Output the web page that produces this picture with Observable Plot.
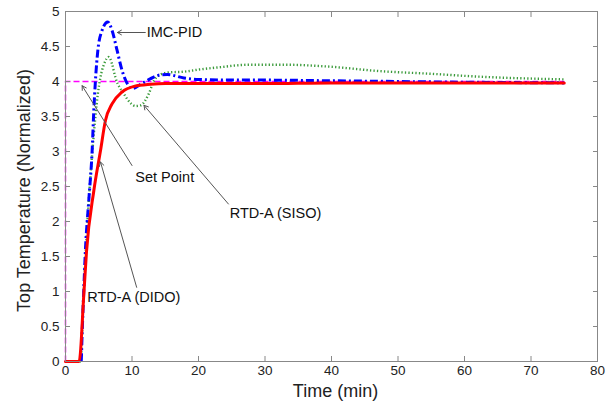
<!DOCTYPE html>
<html><head><meta charset="utf-8">
<script src="https://cdn.jsdelivr.net/npm/d3@7"></script>
<script src="https://cdn.jsdelivr.net/npm/@observablehq/plot@0.6"></script>
<style>body{margin:0;background:#fff;} svg{font-family:"Liberation Sans",Arial,sans-serif;}</style>
</head><body><div id="chart"></div>
<script>
const spT = [0, 0, 75];
const spV = [0, 4, 4];
const imcT = [0, 2.35, 2.5, 2.7, 3.0, 3.5, 4.0, 4.26, 4.5, 4.86, 5.5, 6.36, 7.0, 7.77, 8.5, 9.5, 10.0, 11.3, 12.8, 14.0, 15.3, 17.8, 20, 25, 30, 40, 50, 60, 75];
const imcV = [0, 0, 0.4, 0.9, 1.6, 2.3, 3.0, 3.59, 4.01, 4.44, 4.73, 4.85, 4.73, 4.44, 4.16, 3.94, 3.9, 3.96, 4.04, 4.09, 4.1, 4.05, 4.03, 4.02, 4.02, 4.01, 4.0, 3.99, 3.98];
const sisoT = [0, 2.3, 2.6, 3.0, 3.5, 4.0, 4.5, 4.86, 5.26, 5.8, 6.5, 7.0, 7.5, 8.8, 9.7, 10.5, 11.3, 12.5, 13.3, 14.3, 15.5, 17.8, 20, 22.8, 27.8, 32.8, 40, 47, 55, 62, 75];
const sisoV = [0, 0, 0.7, 1.5, 2.3, 2.95, 3.5, 3.82, 4.06, 4.25, 4.35, 4.25, 4.06, 3.82, 3.7, 3.65, 3.66, 3.82, 4.01, 4.1, 4.13, 4.14, 4.17, 4.2, 4.24, 4.24, 4.21, 4.15, 4.11, 4.07, 4.03];
const didoT = [0, 2.05, 2.75, 3.16, 4.26, 5.26, 6.0, 7.0, 8.5, 10.3, 12.8, 15, 20, 30, 40, 50, 60, 75];
const didoV = [0, 0, 0.95, 1.57, 2.44, 3.01, 3.44, 3.68, 3.85, 3.93, 3.96, 3.97, 3.97, 3.97, 3.98, 3.98, 3.98, 3.98];
const xTicks = [0, 10, 20, 30, 40, 50, 60, 70, 80];
const yTicks = [0, 0.5, 1, 1.5, 2, 2.5, 3, 3.5, 4, 4.5, 5];
const yTickLabels = ["0", "0.5", "1", "1.5", "2", "2.5", "3", "3.5", "4", "4.5", "5"];
const labelText = ["IMC-PID", "Set Point", "RTD-A (SISO)", "RTD-A (DIDO)"];
const labelT = [12.2, 10.5, 24.7, 3.26];
const labelV = [4.7, 2.63, 2.11, 0.92];
const arrowT1 = [12.0, 10.0, 24.5, 10.7];
const arrowV1 = [4.7, 2.8, 2.25, 1.06];
const arrowT2 = [7.8, 2.5, 11.8, 5.26];
const arrowV2 = [4.7, 3.94, 3.66, 2.85];

const pts = (T, V) => T.map((t, i) => ({t, v: V[i]}));
const labels = labelText.map((s, i) => ({s, t: labelT[i], v: labelV[i]}));
const arrows = arrowT1.map((t, i) => ({t1: t, v1: arrowV1[i], t2: arrowT2[i], v2: arrowV2[i]}));

const chart = Plot.plot({
  width: 613, height: 405,
  marginLeft: 65, marginRight: 16, marginTop: 11, marginBottom: 44,
  style: {fontFamily: '"Liberation Sans", Arial, sans-serif', fontSize: "13.5px", color: "#222", background: "#fff"},
  x: {domain: [0, 80]},
  y: {domain: [0, 5]},
  marks: [
    Plot.line(pts(spT, spV), {x: "t", y: "v", stroke: "#ff00ff", strokeWidth: 1.5, strokeDasharray: "6,3", strokeLinecap: "butt"}),
    Plot.line(pts(sisoT, sisoV), {x: "t", y: "v", stroke: "#3a9a3a", strokeWidth: 2.4, strokeDasharray: "1.3,2.2", strokeLinecap: "butt", curve: "monotone-x"}),
    Plot.line(pts(imcT, imcV), {x: "t", y: "v", stroke: "#0000ff", strokeWidth: 3, strokeDasharray: "8,3,2,3", strokeLinecap: "butt", curve: "monotone-x"}),
    Plot.line(pts(didoT, didoV), {x: "t", y: "v", stroke: "#ff0000", strokeWidth: 3, curve: "monotone-x"}),
    Plot.arrow(arrows, {x1: "t1", y1: "v1", x2: "t2", y2: "v2", stroke: "#555", strokeWidth: 1, headLength: 7}),
    Plot.text(labels, {x: "t", y: "v", text: "s", textAnchor: "start", fontSize: 14.5, fill: "#111"}),
    Plot.frame({stroke: "#888"}),
    Plot.axisX(xTicks, {anchor: "bottom", tickSize: -5, tickPadding: 9, stroke: "#888", label: null, fill: "#222"}),
    Plot.axisX(xTicks, {anchor: "top", tickSize: -5, text: null, stroke: "#888", label: null}),
    Plot.axisY(yTicks, {anchor: "left", tickSize: -5, tickPadding: 11, stroke: "#888", label: null, fill: "#222", tickFormat: (d, i) => yTickLabels[i]}),
    Plot.axisY(yTicks, {anchor: "right", tickSize: -5, text: null, stroke: "#888", label: null}),
    Plot.text(["Time (min)"], {frameAnchor: "bottom", lineAnchor: "middle", dx: 4, dy: 30, fontSize: 18, fill: "#222"}),
    Plot.text(["Top Temperature (Normalized)"], {frameAnchor: "left", textAnchor: "middle", lineAnchor: "middle", dx: -41, dy: 4, rotate: -90, fontSize: 18, fill: "#222"})
  ]
});
document.getElementById("chart").appendChild(chart);
</script></body></html>
